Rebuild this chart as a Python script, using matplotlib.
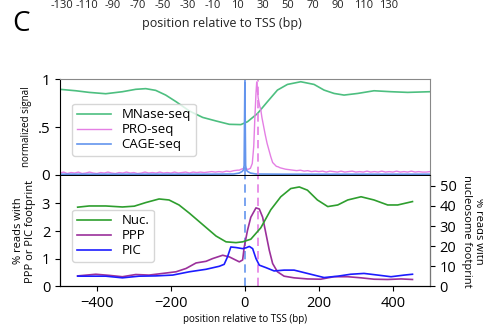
import matplotlib
matplotlib.use("Agg")
import matplotlib.pyplot as plt

plt.rcParams['font.family'] = ['Open Sans', 'DejaVu Sans']

# top panel: MNase-seq profile (normalized)
mnase_x = [-500, -457, -421, -376, -331, -295, -268, -241, -214, -186, -150, -114, -78, -42, -11, 7, 34, 61, 88, 115, 151, 187, 214, 241, 268, 305, 349, 395, 440, 500]
mnase_y = [0.893, 0.878, 0.861, 0.847, 0.868, 0.893, 0.9, 0.882, 0.833, 0.764, 0.667, 0.6, 0.563, 0.528, 0.525, 0.555, 0.64, 0.764, 0.885, 0.944, 0.972, 0.944, 0.885, 0.85, 0.833, 0.85, 0.878, 0.868, 0.861, 0.868]

# PRO-seq (noisy, read by eye)
pro_x = [-500, -490, -480, -470, -460, -450, -440, -430, -420, -410, -400, -390, -380, -370, -360, -350,
         -340, -330, -320, -310, -300, -290, -280, -270, -260, -250, -240, -230, -220, -210, -200, -190,
         -180, -170, -160, -150, -140, -130, -120, -110, -100, -90, -80, -70, -60, -50, -40, -30, -20,
         -15, -10, -5, 0, 5, 10, 15, 20, 24, 27, 30, 32, 34, 36, 38, 40, 43, 46,
         50, 55, 60, 65, 70, 75, 80, 85, 90, 95, 100,
         110, 120, 130, 140, 150, 160, 170, 180, 190, 200, 210, 220, 230, 240, 250, 260, 270, 280, 290, 300,
         310, 320, 330, 340, 350, 360, 370, 380, 390, 400, 410, 420, 430, 440, 450, 460, 470, 480, 490, 500]
pro_y = [0.02, 0.03, 0.015, 0.025, 0.02, 0.03, 0.015, 0.02, 0.03, 0.02, 0.015, 0.025, 0.02, 0.03, 0.02, 0.015,
         0.025, 0.02, 0.03, 0.02, 0.025, 0.015, 0.02, 0.03, 0.02, 0.025, 0.02, 0.03, 0.02, 0.025, 0.02, 0.03,
         0.02, 0.025, 0.03, 0.02, 0.03, 0.025, 0.03, 0.025, 0.03, 0.035, 0.03, 0.035, 0.03, 0.04, 0.035, 0.045, 0.05,
         0.05, 0.06, 0.065, 0.07, 0.06, 0.06, 0.07, 0.12, 0.3, 0.6, 0.85, 0.97, 0.88, 0.8, 0.76, 0.72, 0.68, 0.6,
         0.52, 0.42, 0.33, 0.26, 0.19, 0.13, 0.11, 0.09, 0.085, 0.075, 0.07,
         0.06, 0.055, 0.05, 0.045, 0.05, 0.04, 0.045, 0.035, 0.04, 0.035, 0.04, 0.03, 0.04, 0.035, 0.03, 0.04, 0.03, 0.035, 0.04, 0.03,
         0.035, 0.03, 0.04, 0.03, 0.035, 0.03, 0.04, 0.03, 0.035, 0.03, 0.04, 0.03, 0.035, 0.03, 0.04, 0.03, 0.035, 0.03, 0.03, 0.035]

# CAGE-seq
cage_x = [-500, -100, -30, -15, -8, -4, -2, 0, 2, 4, 8, 15, 30, 100, 500]
cage_y = [0.008, 0.008, 0.01, 0.02, 0.035, 0.05, 0.1, 0.97, 0.1, 0.05, 0.035, 0.02, 0.01, 0.008, 0.008]

# bottom panel: footprints (Nuc. on right axis, PPP/PIC on left axis)
nuc_x = [-452, -421, -376, -331, -299, -268, -232, -205, -178, -150, -114, -78, -51, -24, -6, 16, 43, 70, 97, 124, 147, 169, 196, 224, 251, 278, 314, 349, 386, 413, 453]
nuc_y = [39.4, 40.0, 40.0, 39.5, 39.9, 41.7, 43.5, 43.0, 40.5, 36.4, 30.7, 25.0, 22.1, 21.7, 22.1, 23.4, 29.1, 38.1, 44.6, 48.7, 49.5, 47.9, 43.0, 39.7, 40.5, 43.0, 44.6, 43.0, 40.5, 40.5, 42.2]

ppp_x = [-452, -403, -367, -331, -295, -259, -222, -186, -159, -132, -105, -87, -60, -42, -24, -15, -6, -2, 7, 16, 30, 39, 48, 57, 66, 75, 88, 106, 133, 169, 205, 241, 278, 314, 349, 386, 422, 453]
ppp_y = [0.37, 0.43, 0.39, 0.34, 0.42, 0.4, 0.46, 0.52, 0.64, 0.84, 0.9, 1.0, 1.12, 1.06, 0.94, 0.88, 0.95, 1.4, 2.02, 2.5, 2.84, 2.8, 2.5, 1.9, 1.3, 0.82, 0.52, 0.36, 0.3, 0.26, 0.25, 0.34, 0.34, 0.3, 0.25, 0.24, 0.26, 0.24]

pic_x = [-452, -376, -331, -286, -241, -195, -150, -105, -69, -56, -47, -38, -24, -6, 3, 12, 21, 30, 39, 57, 79, 106, 133, 160, 187, 214, 251, 286, 322, 359, 395, 431, 453]
pic_y = [0.36, 0.36, 0.3, 0.36, 0.37, 0.4, 0.52, 0.61, 0.72, 0.79, 1.06, 1.42, 1.4, 1.36, 1.39, 1.44, 1.36, 1.0, 0.76, 0.67, 0.55, 0.58, 0.58, 0.49, 0.4, 0.31, 0.36, 0.43, 0.46, 0.4, 0.34, 0.4, 0.43]

cage_tss = 0
pro_peak = 35

fig = plt.figure(figsize=(4.83, 3.24), dpi=100)
ax1 = fig.add_axes([0.124, 0.460, 0.766, 0.296])
ax2 = fig.add_axes([0.124, 0.117, 0.766, 0.340], sharex=ax1)
ax3 = ax2.twinx()

ax1.plot(mnase_x, mnase_y, color='#4dbf80', lw=1.2, label='MNase-seq')
ax1.plot(pro_x, pro_y, color='#e47fe4', lw=1.0, label='PRO-seq')
ax1.plot(cage_x, cage_y, color='#6495ed', lw=1.2, label='CAGE-seq')
for ax in (ax1, ax2):
    ax.axvline(cage_tss, color='#6495ed', ls='--', lw=1.2, dashes=(5, 3))
    ax.axvline(pro_peak, color='#e47fe4', ls='--', lw=1.2, dashes=(5, 3))

ax1.set_xlim(-500, 500)
ax1.set_ylim(0, 1)
ax1.set_yticks([0, 0.5, 1])
ax1.set_yticklabels(['0', '.5', '1'], fontsize=11)
ax1.tick_params(axis='x', labelbottom=False, length=0)
ax1.set_ylabel('normalized signal', fontsize=7, labelpad=4)
for s in ('top', 'right'):
    ax1.spines[s].set_color('#888888')
ax1.legend(loc='lower left', bbox_to_anchor=(0.015, 0.13), fontsize=9.5, frameon=True,
           handlelength=2.6, borderpad=0.35, labelspacing=0.15, fancybox=True)

ln1, = ax3.plot(nuc_x, nuc_y, color='#2e9e2e', lw=1.2, label='Nuc.')
ln2, = ax2.plot(ppp_x, ppp_y, color='#9b309b', lw=1.2, label='PPP')
ln3, = ax2.plot(pic_x, pic_y, color='#1c1cff', lw=1.2, label='PIC')
ax2.set_ylim(0, 4)
ax2.set_yticks([0, 1, 2, 3])
ax3.set_ylim(0, 55)
ax3.set_yticks([0, 10, 20, 30, 40, 50])
ax2.set_xticks([-400, -200, 0, 200, 400])
ax2.tick_params(labelsize=10.5)
ax3.tick_params(labelsize=10.5)
ax2.set_xlabel('position relative to TSS (bp)', fontsize=7, labelpad=2)
ax2.set_ylabel('% reads with\nPPP or PIC footprint', fontsize=8, labelpad=4)
ax3.set_ylabel('% reads with\nnucleosome footprint', fontsize=8, rotation=270, labelpad=20)
ax3.spines['right'].set_color('#777777')
ax2.spines['top'].set_visible(False)
ax3.spines['top'].set_visible(False)
ax2.legend([ln1, ln2, ln3], ['Nuc.', 'PPP', 'PIC'], loc='lower left', bbox_to_anchor=(0.015, 0.16),
           fontsize=9.5, handlelength=2.6, borderpad=0.35, labelspacing=0.15)

# cut-off remains of the panel above
top_labels = ['-130', '-110', '-90', '-70', '-50', '-30', '-10', '10', '30', '50', '70', '90', '110', '130']
for i, lab in enumerate(top_labels):
    fig.text((62 + i * 25.1) / 483, 1.0, lab, fontsize=8, ha='center', va='top', color='#222222')
fig.text(222 / 483, 1 - 23 / 324, 'position relative to TSS (bp)', fontsize=9, ha='center', va='center', color='#222222')
fig.text(12 / 483, 1 - 24 / 324, 'C', fontsize=20, ha='left', va='center')

fig.savefig('out.png', dpi=100)
